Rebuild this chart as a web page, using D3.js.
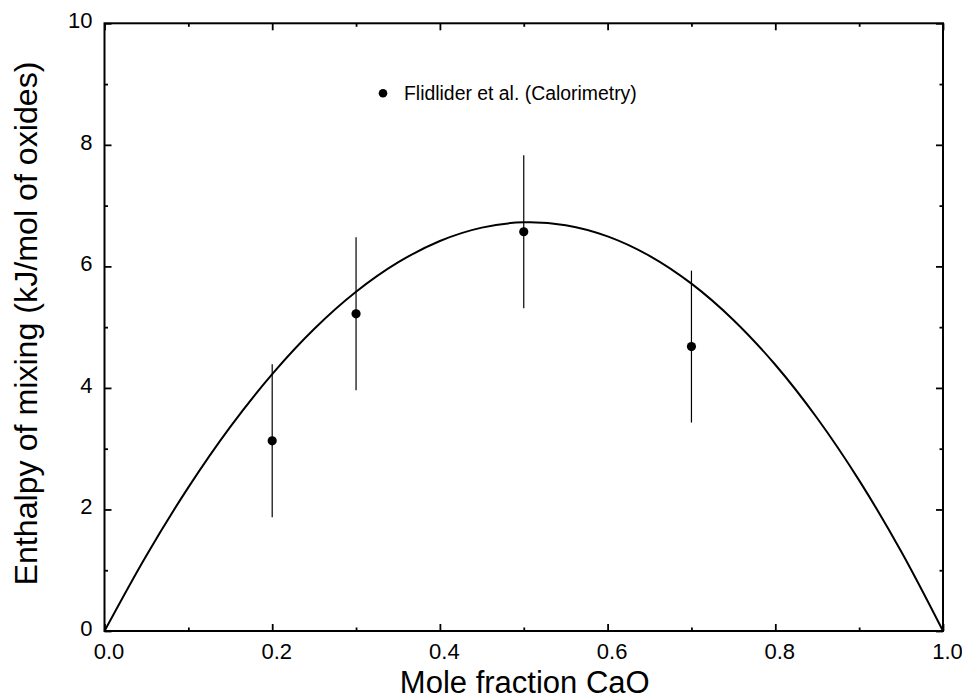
<!DOCTYPE html>
<html>
<head>
<meta charset="utf-8">
<script src="https://cdn.jsdelivr.net/npm/d3@7"></script>
<style>
  html, body { margin: 0; padding: 0; background: #fff; }
  svg { display: block; font-family: "Liberation Sans", Arial, sans-serif; }
</style>
</head>
<body>
<svg id="chart" width="962" height="700"></svg>
<script>
// Calorimetric measurements (mole fraction CaO, enthalpy, uncertainty)
const measX = [0.2, 0.3, 0.5, 0.7];
const measY = [3.13, 5.22, 6.57, 4.68];
const measErr = [1.26, 1.26, 1.26, 1.25];

// Model curve for the enthalpy of mixing
const curveX = [0.00, 0.05, 0.10, 0.15, 0.20, 0.25, 0.30, 0.35, 0.40, 0.45, 0.50,
                0.55, 0.60, 0.65, 0.70, 0.75, 0.80, 0.85, 0.90, 0.95, 1.00];
const curveY = [0.000, 1.244, 2.363, 3.358, 4.227, 4.969, 5.582, 6.065, 6.418, 6.638, 6.725,
                6.678, 6.494, 6.174, 5.716, 5.119, 4.381, 3.501, 2.479, 1.312, 0.000];

const xTicks = [0.0, 0.2, 0.4, 0.6, 0.8, 1.0];
const xMinor = [0.1, 0.3, 0.5, 0.7, 0.9];
const yTicks = [0, 2, 4, 6, 8, 10];
const yMinor = [1, 3, 5, 7, 9];

const legendLabel = "Flidlider et al. (Calorimetry)";
const xTitle = "Mole fraction CaO";
const yTitle = "Enthalpy of mixing (kJ/mol of oxides)";

const svg = d3.select("#chart");
const plotLeft = 104.5, plotRight = 943, plotTop = 23.3, plotBottom = 631;

const x = d3.scaleLinear().domain([0, 1]).range([plotLeft, plotRight]);
const y = d3.scaleLinear().domain([0, 10]).range([plotBottom, plotTop]);

// Frame
svg.append("rect")
  .attr("x", plotLeft).attr("y", plotTop)
  .attr("width", plotRight - plotLeft).attr("height", plotBottom - plotTop)
  .attr("fill", "none").attr("stroke", "#000").attr("stroke-width", 2);

const tickStroke = g => g.selectAll("line").attr("stroke", "#000").attr("stroke-width", 1.8);

// Bottom axis: labels plus inward ticks
const bottomAxis = svg.append("g").attr("transform", `translate(0,${plotBottom})`);
bottomAxis.call(d3.axisBottom(x).tickValues(xTicks).tickSize(-7).tickPadding(12)
    .tickFormat(d3.format(".1f")))
  .call(g => g.select(".domain").remove())
  .call(tickStroke)
  .call(g => g.selectAll("text").attr("font-size", 22).attr("fill", "#000")
        .attr("font-family", "Liberation Sans, Arial, sans-serif").attr("dx", 4));
bottomAxis.append("g")
  .call(d3.axisBottom(x).tickValues(xMinor).tickSize(-3.5).tickFormat(""))
  .call(g => g.select(".domain").remove()).call(tickStroke);

// Top axis: ticks only
const topAxis = svg.append("g").attr("transform", `translate(0,${plotTop})`);
topAxis.call(d3.axisTop(x).tickValues(xTicks).tickSize(-7).tickFormat(""))
  .call(g => g.select(".domain").remove()).call(tickStroke);
topAxis.append("g")
  .call(d3.axisTop(x).tickValues(xMinor).tickSize(-3.5).tickFormat(""))
  .call(g => g.select(".domain").remove()).call(tickStroke);

// Left axis
const leftAxis = svg.append("g").attr("transform", `translate(${plotLeft},0)`);
leftAxis.call(d3.axisLeft(y).tickValues(yTicks).tickSize(-7).tickPadding(12).tickFormat(d3.format("d")))
  .call(g => g.select(".domain").remove())
  .call(tickStroke)
  .call(g => g.selectAll("text").attr("font-size", 22).attr("fill", "#000")
        .attr("font-family", "Liberation Sans, Arial, sans-serif").attr("dy", "0.2em"));
leftAxis.append("g")
  .call(d3.axisLeft(y).tickValues(yMinor).tickSize(-3.5).tickFormat(""))
  .call(g => g.select(".domain").remove()).call(tickStroke);

// Right axis: ticks only
const rightAxis = svg.append("g").attr("transform", `translate(${plotRight},0)`);
rightAxis.call(d3.axisRight(y).tickValues(yTicks).tickSize(-7).tickFormat(""))
  .call(g => g.select(".domain").remove()).call(tickStroke);
rightAxis.append("g")
  .call(d3.axisRight(y).tickValues(yMinor).tickSize(-3.5).tickFormat(""))
  .call(g => g.select(".domain").remove()).call(tickStroke);

// Model curve
const line = d3.line().x((d, i) => x(curveX[i])).y(d => y(d)).curve(d3.curveCatmullRom);
svg.append("path")
  .attr("d", line(curveY))
  .attr("fill", "none").attr("stroke", "#000").attr("stroke-width", 2);

// Error bars
svg.append("g").selectAll("line")
  .data(measX).join("line")
  .attr("x1", d => x(d)).attr("x2", d => x(d))
  .attr("y1", (d, i) => y(measY[i] - measErr[i]))
  .attr("y2", (d, i) => y(measY[i] + measErr[i]))
  .attr("stroke", "#000").attr("stroke-width", 1.2);

// Measured points
svg.append("g").selectAll("circle")
  .data(measX).join("circle")
  .attr("cx", d => x(d)).attr("cy", (d, i) => y(measY[i]))
  .attr("r", 4.6).attr("fill", "#000");

// Legend
svg.append("circle").attr("cx", 383).attr("cy", 93.3).attr("r", 4.3).attr("fill", "#000");
svg.append("text").attr("x", 404).attr("y", 100)
  .attr("font-size", 19.4).attr("fill", "#000").text(legendLabel);

// Axis titles
svg.append("text")
  .attr("x", (plotLeft + plotRight) / 2 + 1).attr("y", 693)
  .attr("text-anchor", "middle").attr("font-size", 31).attr("fill", "#000")
  .text(xTitle);

svg.append("text")
  .attr("transform", "translate(37,323.5) rotate(-90)")
  .attr("text-anchor", "middle").attr("font-size", 32.2).attr("fill", "#000")
  .text(yTitle);
</script>
</body>
</html>
